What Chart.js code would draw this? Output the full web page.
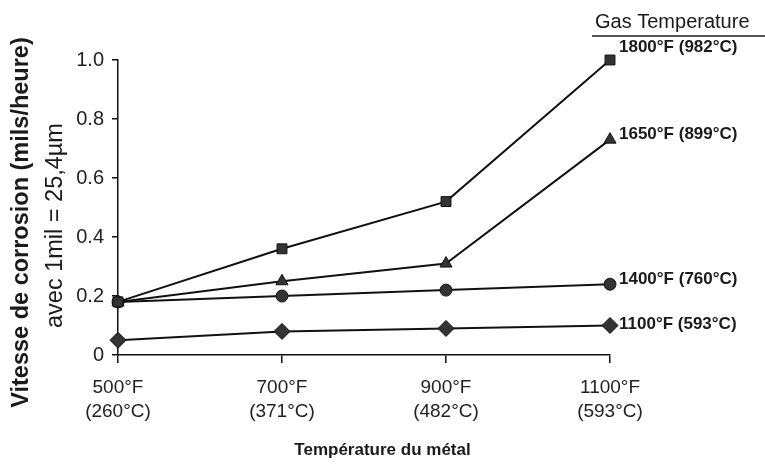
<!DOCTYPE html>
<html>
<head>
<meta charset="utf-8">
<script src="https://cdn.jsdelivr.net/npm/chart.js@4.4.1/dist/chart.umd.min.js"></script>
<style>
    html, body { margin: 0; padding: 0; background: #fff; }
    canvas { display: block; }
</style>
</head>
<body>
<canvas id="chart" width="765" height="464"></canvas>
<script>
// Metal temperature categories (x axis)
const metalTemps = [['500°F', '(260°C)'], ['700°F', '(371°C)'], ['900°F', '(482°C)'], ['1100°F', '(593°C)']];

// Gas temperature series
const seriesNames = ['1800°F (982°C)', '1650°F (899°C)', '1400°F (760°C)', '1100°F (593°C)'];
const gas1800 = [0.18, 0.36, 0.52, 1.00];
const gas1650 = [0.18, 0.25, 0.31, 0.73];
const gas1400 = [0.18, 0.20, 0.22, 0.24];
const gas1100 = [0.05, 0.08, 0.09, 0.10];

// y ticks
const yTicks = [0, 0.2, 0.4, 0.6, 0.8, 1.0];

const FONT = "'Liberation Sans', Arial, Helvetica, sans-serif";
const INK = '#1a1a1a';

const markerStyles = [
    { pointStyle: 'rect', radius: 7 },
    { pointStyle: 'triangle', radius: 7 },
    { pointStyle: 'circle', radius: 6 },
    { pointStyle: 'rectRot', radius: 8 }
];
// vertical nudge of the end labels
const labelNudge = [-13, -5, -5, -1];

const seriesData = [gas1800, gas1650, gas1400, gas1100];

const datasets = seriesData.map((values, i) => ({
    label: seriesNames[i],
    data: values,
    borderColor: '#111',
    borderWidth: 2,
    backgroundColor: '#333',
    pointBackgroundColor: '#333',
    pointBorderColor: '#111',
    pointBorderWidth: 1,
    pointStyle: markerStyles[i].pointStyle,
    pointRadius: markerStyles[i].radius,
    tension: 0,
    fill: false,
    clip: false
}));

// Labels, legend header and axis titles
const annotations = {
    id: 'annotations',
    afterDatasetsDraw(chart) {
        const ctx = chart.ctx;
        const area = chart.chartArea;
        ctx.save();
        ctx.fillStyle = INK;

        // series labels next to the last point
        ctx.font = 'bold 17px ' + FONT;
        ctx.textAlign = 'left';
        ctx.textBaseline = 'middle';
        chart.data.datasets.forEach((ds, i) => {
            const pts = chart.getDatasetMeta(i).data;
            const p = pts[pts.length - 1];
            ctx.fillText(ds.label, p.x + 9, p.y + labelNudge[i]);
        });

        // Gas Temperature header
        ctx.font = '20px ' + FONT;
        ctx.fillText('Gas Temperature', area.right - 15, 22);
        ctx.strokeStyle = INK;
        ctx.lineWidth = 1.5;
        ctx.beginPath();
        ctx.moveTo(area.right - 18, 36);
        ctx.lineTo(chart.width, 36);
        ctx.stroke();

        // x axis title
        ctx.textAlign = 'center';
        ctx.font = 'bold 17px ' + FONT;
        ctx.fillText('Température du métal', chart.width / 2, chart.height - 14);

        // y axis titles
        const cy = (area.top + area.bottom) / 2 + 15;
        ctx.save();
        ctx.translate(22, cy);
        ctx.rotate(-Math.PI / 2);
        ctx.font = 'bold 23.5px ' + FONT;
        ctx.fillText('Vitesse de corrosion (mils/heure)', 0, 0);
        ctx.restore();
        ctx.save();
        ctx.translate(56, cy + 3);
        ctx.rotate(-Math.PI / 2);
        ctx.font = '23.5px ' + FONT;
        ctx.fillText('avec 1mil = 25,4µm', 0, 0);
        ctx.restore();

        ctx.restore();
    }
};

new Chart(document.getElementById('chart'), {
    type: 'line',
    data: { labels: metalTemps, datasets },
    plugins: [annotations],
    options: {
        responsive: false,
        animation: false,
        layout: { padding: { top: 60, right: 155, bottom: 0, left: 0 } },
        plugins: { legend: { display: false }, tooltip: { enabled: false } },
        scales: {
            x: {
                offset: false,
                grid: { display: true, drawOnChartArea: false, drawTicks: true, tickLength: 8, color: '#111', lineWidth: 1.5 },
                border: { display: true, color: '#111', width: 1.5 },
                ticks: {
                    color: '#222',
                    font: { family: FONT, size: 19, lineHeight: 1.3 },
                    padding: 12,
                    maxRotation: 0
                },
                afterFit(scale) { scale.height = 109; }
            },
            y: {
                min: 0,
                max: 1.0,
                afterBuildTicks(scale) { scale.ticks = yTicks.map(v => ({ value: v })); },
                grid: { display: true, drawOnChartArea: false, drawTicks: true, tickLength: 6, color: '#111', lineWidth: 1.5 },
                border: { display: true, color: '#111', width: 1.5 },
                ticks: {
                    color: '#222',
                    font: { family: FONT, size: 20 },
                    padding: 8,
                    callback: v => v === 0 ? '0' : v.toFixed(1)
                },
                afterFit(scale) { scale.width = 118; }
            }
        }
    }
});
</script>
</body>
</html>
